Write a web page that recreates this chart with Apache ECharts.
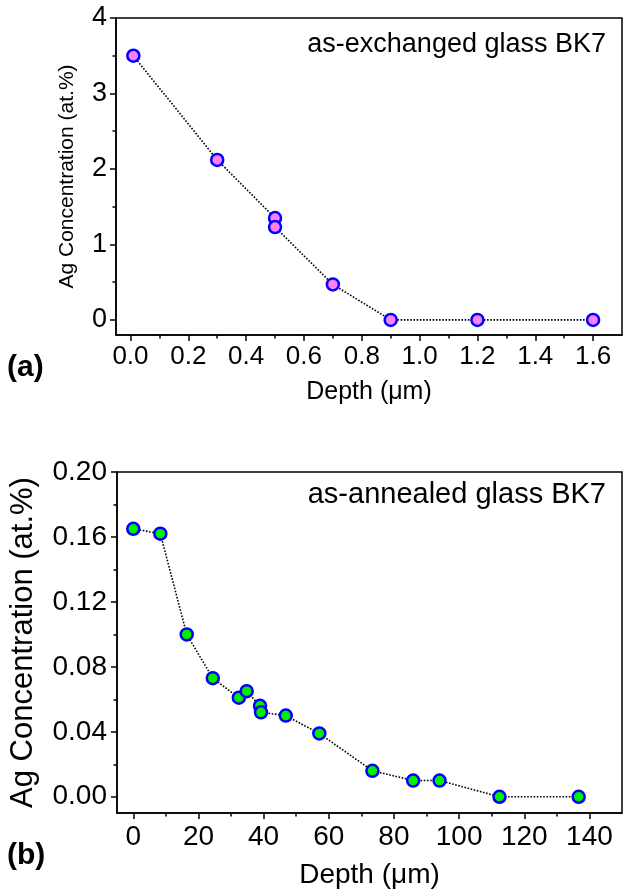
<!DOCTYPE html>
<html>
<head>
<meta charset="utf-8">
<script src="https://cdn.jsdelivr.net/npm/echarts@6/dist/echarts.min.js"></script>
<style>
  html, body { margin: 0; padding: 0; background: #fff; }
  #chart { width: 624px; height: 896px; }
</style>
</head>
<body>
<div id="chart"></div>
<script>
// --- data: panel (a), as-exchanged ---
const depthA = [0.01, 0.3, 0.5, 0.5, 0.7, 0.9, 1.2, 1.6]
const concA = [3.5, 2.12, 1.35, 1.23, 0.47, 0, 0, 0]
// --- data: panel (b), as-annealed ---
const depthB = [0, 8.3, 16.4, 24.4, 32.4, 34.8, 38.9, 39.2, 46.8, 57.1, 73.4, 85.9, 94.0, 112.4, 136.7]
const concB = [0.165, 0.162, 0.100, 0.073, 0.061, 0.065, 0.056, 0.052, 0.050, 0.039, 0.016, 0.010, 0.010, 0, 0]

// tick values
const xTicksA = [0, 0.2, 0.4, 0.6, 0.8, 1.0, 1.2, 1.4, 1.6]
const xMinorA = [0.1, 0.3, 0.5, 0.7, 0.9, 1.1, 1.3, 1.5]
const yTicksA = [0, 1, 2, 3, 4]
const yMinorA = [0.5, 1.5, 2.5, 3.5]
const xTicksB = [0, 20, 40, 60, 80, 100, 120, 140]
const xMinorB = [10, 30, 50, 70, 90, 110, 130]
const yTicksB = [0, 0.04, 0.08, 0.12, 0.16, 0.20]
const yMinorB = [0.02, 0.06, 0.10, 0.14, 0.18]

const FONT = 'Liberation Sans, Arial, sans-serif'
const BLACK = '#000'

const pairs = (xs, ys) => xs.map((x, i) => [x, ys[i]])

// main axis (labels + major ticks)
const mainAxis = (o) => ({
  type: 'value',
  gridIndex: o.grid,
  min: o.min,
  max: o.max,
  name: o.name,
  nameLocation: 'middle',
  nameGap: o.nameGap,
  nameTextStyle: { fontFamily: FONT, fontSize: o.nameSize, color: BLACK },
  axisLine: { show: true, onZero: false, lineStyle: { color: BLACK, width: 1.5 } },
  axisTick: { show: true, customValues: o.ticks, length: 6, lineStyle: { color: BLACK, width: 1.5 } },
  axisLabel: {
    customValues: o.ticks,
    margin: o.margin,
    fontFamily: FONT,
    fontSize: o.labelSize,
    color: BLACK,
    formatter: (v) => v.toFixed(o.digits)
  },
  splitLine: { show: false }
})

// extra axis used only for the short minor ticks
const minorAxis = (o) => ({
  type: 'value',
  gridIndex: o.grid,
  min: o.min,
  max: o.max,
  position: o.position,
  axisLine: { show: false, onZero: false },
  axisTick: { show: true, customValues: o.ticks, length: 3.5, lineStyle: { color: BLACK, width: 1.5 } },
  axisLabel: { show: false },
  splitLine: { show: false }
})

const seriesStyle = (fill) => ({
  type: 'line',
  symbol: 'circle',
  symbolSize: 12,
  lineStyle: { color: BLACK, width: 1.6, type: 'dotted' },
  itemStyle: { color: fill, borderColor: '#0000ff', borderWidth: 2.5 },
  z: 3
})

const myChart = echarts.init(document.getElementById('chart'))

const option = {
  backgroundColor: '#fff',
  animation: false,
  title: [
    { text: 'as-exchanged glass BK7', right: 18, top: 31, padding: 0,
      textStyle: { fontFamily: FONT, fontSize: 27, fontWeight: 'normal', color: BLACK } },
    { text: 'as-annealed glass BK7', right: 18, top: 480, padding: 0,
      textStyle: { fontFamily: FONT, fontSize: 29, fontWeight: 'normal', color: BLACK } },
    { text: '(a)', left: 7, top: 353, padding: 0,
      textStyle: { fontFamily: FONT, fontSize: 30, fontWeight: 'bold', color: BLACK } },
    { text: '(b)', left: 7, top: 841, padding: 0,
      textStyle: { fontFamily: FONT, fontSize: 30, fontWeight: 'bold', color: BLACK } }
  ],
  grid: [
    { left: 116, top: 18, right: 2, bottom: 561, show: true, borderColor: BLACK, borderWidth: 1.5, containLabel: false },
    { left: 116, top: 472, right: 2, bottom: 83, show: true, borderColor: BLACK, borderWidth: 1.5, containLabel: false }
  ],
  xAxis: [
    mainAxis({ grid: 0, min: -0.05, max: 1.7, ticks: xTicksA, digits: 1, labelSize: 26, margin: 9,
      name: 'Depth (μm)', nameGap: 45, nameSize: 25 }),
    minorAxis({ grid: 0, min: -0.05, max: 1.7, ticks: xMinorA, position: 'bottom' }),
    mainAxis({ grid: 1, min: -5, max: 150, ticks: xTicksB, digits: 0, labelSize: 28, margin: 10,
      name: 'Depth (μm)', nameGap: 48, nameSize: 28 }),
    minorAxis({ grid: 1, min: -5, max: 150, ticks: xMinorB, position: 'bottom' })
  ],
  yAxis: [
    mainAxis({ grid: 0, min: -0.2, max: 4, ticks: yTicksA, digits: 0, labelSize: 27, margin: 9,
      name: 'Ag Concentration (at.%)', nameGap: 38, nameSize: 21 }),
    minorAxis({ grid: 0, min: -0.2, max: 4, ticks: yMinorA, position: 'left' }),
    mainAxis({ grid: 1, min: -0.01, max: 0.20, ticks: yTicksB, digits: 2, labelSize: 28, margin: 10,
      name: 'Ag Concentration (at.%)', nameGap: 78, nameSize: 31 }),
    minorAxis({ grid: 1, min: -0.01, max: 0.20, ticks: yMinorB, position: 'left' })
  ],
  series: [
    Object.assign(seriesStyle('#ff80ff'), { name: 'as-exchanged', xAxisIndex: 0, yAxisIndex: 0, data: pairs(depthA, concA) }),
    Object.assign(seriesStyle('#00ee00'), { name: 'as-annealed', xAxisIndex: 2, yAxisIndex: 2, data: pairs(depthB, concB) })
  ]
}

myChart.setOption(option)
</script>
</body>
</html>
